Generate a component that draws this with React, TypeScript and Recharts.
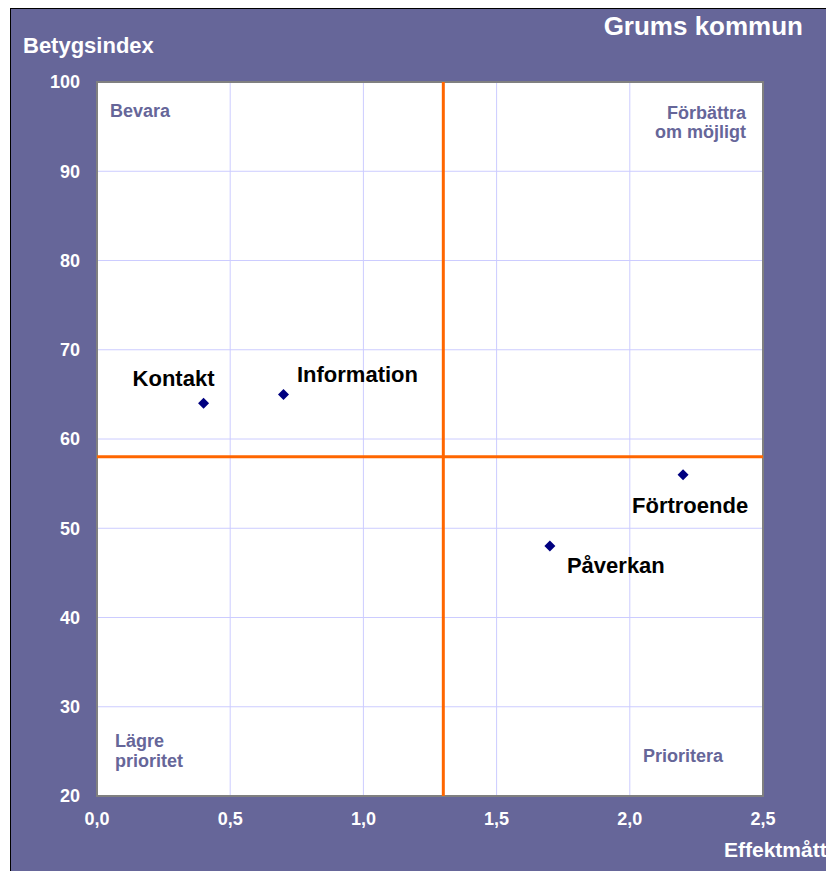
import React from 'react';
import {
  ScatterChart,
  Scatter,
  XAxis,
  YAxis,
  CartesianGrid,
  ReferenceLine,
  ReferenceArea,
} from 'recharts';

// ---- data ----
const categories = ['Kontakt', 'Information', 'Påverkan', 'Förtroende'];
const effectValues = [0.4, 0.7, 1.7, 2.2];
const indexValues = [64, 65, 48, 56];
const xTicks = [0, 0.5, 1, 1.5, 2, 2.5];
const yTicks = [20, 30, 40, 50, 60, 70, 80, 90, 100];
const effectThreshold = 1.3;
const indexThreshold = 58;
const chartTitle = 'Grums kommun';
const yAxisTitle = 'Betygsindex';
const xAxisTitle = 'Effektmått';

const points = categories.map((name, i) => ({
  name,
  x: effectValues[i],
  y: indexValues[i],
}));

const FONT = '"Liberation Sans", Arial, Helvetica, sans-serif';
const PURPLE = '#666699';

// label placement relative to the marker (dx, dy of baseline)
const labelPlacement: Record<string, [number, number]> = {
  Kontakt: [-30, -17],
  Information: [74, -12],
  Påverkan: [66, 27],
  Förtroende: [7, 38],
};

const PointShape = (props: any) => {
  const { cx, cy, payload } = props;
  if (cx == null || cy == null) return null;
  const r = 5.5;
  const [dx, dy] = labelPlacement[payload.name] || [0, -10];
  return (
    <g>
      <path
        d={`M${cx},${cy - r}L${cx + r},${cy}L${cx},${cy + r}L${cx - r},${cy}Z`}
        fill="#000080"
      />
      <text
        x={cx + dx}
        y={cy + dy}
        textAnchor="middle"
        fontSize={22}
        fontWeight="bold"
        fill="#000"
        fontFamily={FONT}
      >
        {payload.name}
      </text>
    </g>
  );
};

const fmt = (v: number) => v.toFixed(1).replace('.', ',');

export default function App() {
  return (
    <div
      style={{
        marginLeft: 2,
        position: 'relative',
        width: 823,
        height: 862,
        background: PURPLE,
        borderTop: '1px solid #000',
        borderLeft: '1px solid #000',
        fontFamily: FONT,
        overflow: 'hidden',
      }}
    >
      <ScatterChart
        width={823}
        height={862}
        margin={{ top: 73, right: 71, left: 0, bottom: 0 }}
        style={{ fontFamily: FONT }}
      >
        <CartesianGrid stroke="#ccccff" fill="#ffffff" strokeWidth={1} />
        <XAxis
          type="number"
          dataKey="x"
          domain={[0, 2.5]}
          ticks={xTicks}
          tickFormatter={fmt}
          height={75}
          tickSize={0}
          tickMargin={16}
          axisLine={false}
          tickLine={false}
          tick={{ fill: '#ffffff', fontSize: 18, fontWeight: 'bold' }}
          interval={0}
          allowDataOverflow
        />
        <YAxis
          type="number"
          dataKey="y"
          domain={[20, 100]}
          ticks={yTicks}
          width={86}
          tickSize={0}
          tickMargin={17}
          axisLine={false}
          tickLine={false}
          tick={{ fill: '#ffffff', fontSize: 18, fontWeight: 'bold' }}
          interval={0}
          allowDataOverflow
        />
        <ReferenceArea
          x1={0}
          x2={2.5}
          y1={20}
          y2={100}
          fill="none"
          fillOpacity={0}
          stroke="#808080"
          strokeWidth={2}
          ifOverflow="visible"
        />
        <ReferenceLine x={effectThreshold} stroke="#ff6600" strokeWidth={3} />
        <ReferenceLine y={indexThreshold} stroke="#ff6600" strokeWidth={3} />
        <Scatter data={points} shape={PointShape} isAnimationActive={false} />
      </ScatterChart>
      <svg
        width={823}
        height={862}
        style={{ position: 'absolute', left: 0, top: 0, pointerEvents: 'none' }}
        fontFamily={FONT}
        fontWeight="bold"
      >
        <text x={792} y={26} textAnchor="end" fontSize={26} fill="#ffffff">
          {chartTitle}
        </text>
        <text x={12} y={44} fontSize={22} fill="#ffffff">
          {yAxisTitle}
        </text>
        <text x={713} y={848} fontSize={21} fill="#ffffff">
          {xAxisTitle}
        </text>
        <text x={99} y={108} fontSize={18} fill={PURPLE}>
          Bevara
        </text>
        <text x={735} y={110} fontSize={18} fill={PURPLE} textAnchor="end">
          Förbättra
        </text>
        <text x={735} y={129} fontSize={18} fill={PURPLE} textAnchor="end">
          om möjligt
        </text>
        <text x={104} y={738} fontSize={18} fill={PURPLE}>
          Lägre
        </text>
        <text x={104} y={758} fontSize={18} fill={PURPLE}>
          prioritet
        </text>
        <text x={632} y={753} fontSize={18} fill={PURPLE}>
          Prioritera
        </text>
      </svg>
    </div>
  );
}
